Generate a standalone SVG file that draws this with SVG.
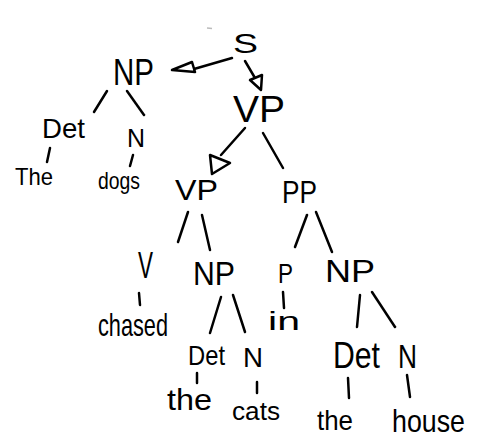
<svg xmlns="http://www.w3.org/2000/svg" width="486" height="442" viewBox="0 0 486 442">
<style>
text{font-family:"Liberation Sans",Arial,sans-serif;fill:#000;}
.e{stroke:#000;stroke-width:2.5;stroke-linecap:round;fill:none;}
.h{stroke:#000;stroke-width:2.5;stroke-linejoin:round;fill:#fff;}
</style>
<rect width="486" height="442" fill="#fff"/>
<line x1="207" y1="28" x2="212" y2="28.5" stroke="#bbb" stroke-width="1.5"/>
<g id="connectors">
<line class="e" x1="232" y1="58" x2="194" y2="69"/>
<polygon class="h" points="172,70 192,62 195,72"/>
<line class="e" x1="245" y1="61" x2="255" y2="78"/>
<polygon class="h" points="250,80 262,75 261,90"/>
<line class="e" x1="245" y1="128" x2="221" y2="155"/>
<polygon class="h" points="210,155 230,163 212,174"/>
<line class="e" x1="263" y1="133" x2="283" y2="168"/>
<line class="e" x1="107" y1="91" x2="94" y2="112"/>
<line class="e" x1="127" y1="91" x2="144" y2="115"/>
<line class="e" x1="50" y1="148" x2="47" y2="162"/>
<line class="e" x1="133" y1="155" x2="130" y2="166"/>
<line class="e" x1="188" y1="212" x2="178" y2="242"/>
<line class="e" x1="202" y1="215" x2="210" y2="250"/>
<line class="e" x1="307" y1="215" x2="295" y2="247"/>
<line class="e" x1="316" y1="212" x2="332" y2="252"/>
<line class="e" x1="139" y1="293" x2="140" y2="305"/>
<line class="e" x1="221" y1="297" x2="210" y2="333"/>
<line class="e" x1="233" y1="295" x2="245" y2="332"/>
<line class="e" x1="283" y1="292" x2="284" y2="308"/>
<line class="e" x1="360" y1="295" x2="357" y2="327"/>
<line class="e" x1="372" y1="292" x2="395" y2="327"/>
<line class="e" x1="197" y1="373" x2="197" y2="383"/>
<line class="e" x1="257" y1="382" x2="257" y2="393"/>
<line class="e" x1="348" y1="378" x2="349" y2="398"/>
<line class="e" x1="407" y1="375" x2="410" y2="397"/>
</g>
<g id="S"><text x="233" y="53" font-size="28" textLength="25" lengthAdjust="spacingAndGlyphs">S</text></g>
<g id="NP1"><text x="113" y="85" font-size="36" textLength="41" lengthAdjust="spacingAndGlyphs">NP</text></g>
<g id="VP1"><text x="233" y="122" font-size="36" textLength="52" lengthAdjust="spacingAndGlyphs">VP</text></g>
<g id="Det1"><text x="42" y="138" font-size="28" textLength="43" lengthAdjust="spacingAndGlyphs">Det</text></g>
<g id="N1"><text x="127" y="147" font-size="26" textLength="18" lengthAdjust="spacingAndGlyphs">N</text></g>
<g id="The"><text x="15" y="185" font-size="24" textLength="38" lengthAdjust="spacingAndGlyphs">The</text></g>
<g id="dogs"><text x="98" y="189" font-size="24" textLength="42" lengthAdjust="spacingAndGlyphs">dogs</text></g>
<g id="VP2"><text x="175" y="200" font-size="30" textLength="43" lengthAdjust="spacingAndGlyphs">VP</text></g>
<g id="PP"><text x="282" y="203" font-size="32" textLength="35" lengthAdjust="spacingAndGlyphs">PP</text></g>
<g id="V"><text x="138" y="278" font-size="36" textLength="15" lengthAdjust="spacingAndGlyphs">V</text></g>
<g id="NP2"><text x="193" y="285" font-size="34" textLength="42" lengthAdjust="spacingAndGlyphs">NP</text></g>
<g id="P"><text x="278" y="283" font-size="28" textLength="15" lengthAdjust="spacingAndGlyphs">P</text></g>
<g id="NP3"><text x="325" y="282" font-size="32" textLength="50" lengthAdjust="spacingAndGlyphs">NP</text></g>
<g id="chased"><text x="98" y="336" font-size="32" textLength="70" lengthAdjust="spacingAndGlyphs">chased</text></g>
<g id="in"><text x="268" y="330" font-size="26" textLength="32" lengthAdjust="spacingAndGlyphs">in</text></g>
<g id="Det2"><text x="188" y="365" font-size="28" textLength="37" lengthAdjust="spacingAndGlyphs">Det</text></g>
<g id="N2"><text x="243" y="367" font-size="28" textLength="20" lengthAdjust="spacingAndGlyphs">N</text></g>
<g id="the1"><text x="167" y="410" font-size="30" textLength="45" lengthAdjust="spacingAndGlyphs">the</text></g>
<g id="cats"><text x="232" y="420" font-size="26" textLength="48" lengthAdjust="spacingAndGlyphs">cats</text></g>
<g id="Det3"><text x="333" y="368" font-size="36" textLength="47" lengthAdjust="spacingAndGlyphs">Det</text></g>
<g id="N3"><text x="398" y="368" font-size="34" textLength="19" lengthAdjust="spacingAndGlyphs">N</text></g>
<g id="the2"><text x="317" y="430" font-size="28" textLength="36" lengthAdjust="spacingAndGlyphs">the</text></g>
<g id="house"><text x="392" y="432" font-size="32" textLength="73" lengthAdjust="spacingAndGlyphs">house</text></g>
</svg>
